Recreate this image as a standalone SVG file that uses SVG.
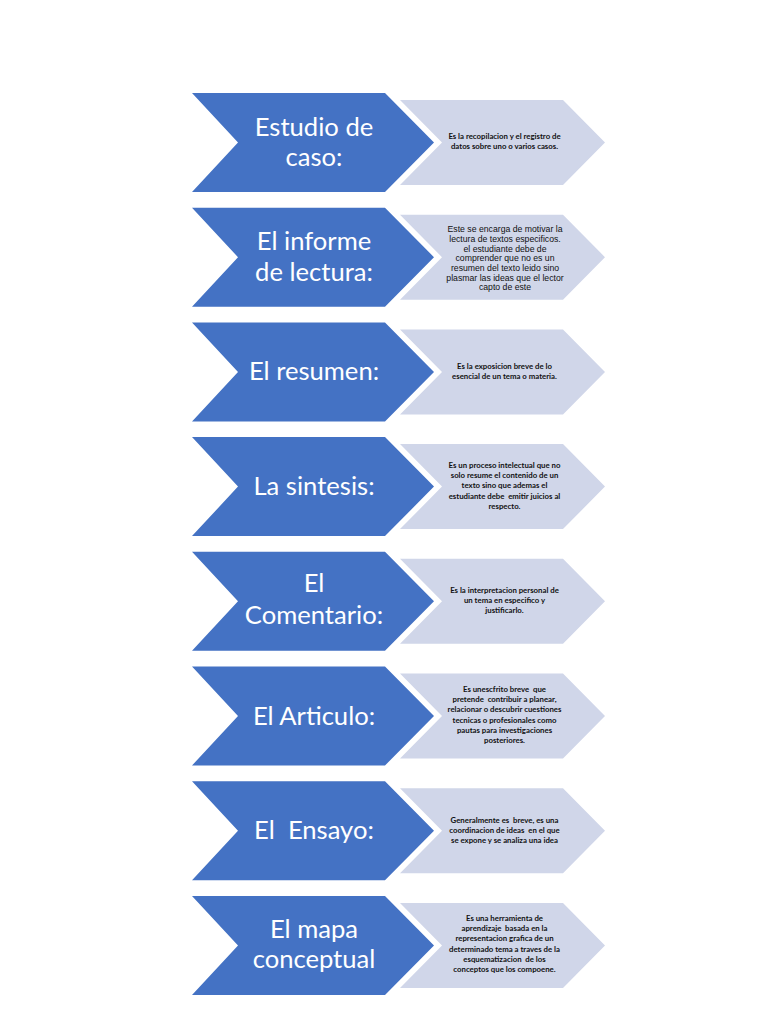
<svg xmlns="http://www.w3.org/2000/svg" width="768" height="1024" viewBox="0 0 768 1024">
<defs>
<style>
.blue{fill:#4472C4}
.light{fill:#D0D6E9}
.t{font-family:Lato,"Open Sans",sans-serif;font-size:25.6px;fill:#FFFFFF;text-anchor:middle}
.d{font-family:Lato,"Noto Sans",sans-serif;font-size:7.8px;font-weight:700;fill:#111111;text-anchor:middle}
.a{font-family:"Liberation Sans",Arial,sans-serif;font-size:8.7px;fill:#111111;text-anchor:middle}
</style>
<polygon id="bchev" points="192,93 385,93 434,142.5 385,192 192,192 238,142.5"/>
<polygon id="lchev" points="400,100 563,100 605,142.5 563,185 400,185 442,142.5"/>
</defs>
<rect width="768" height="1024" fill="#FFFFFF"/>
<g id="connectors"/>
<g id="row1">
<use href="#lchev" class="light"/><use href="#bchev" class="blue"/>
<text class="t" x="314" y="136">Estudio de</text>
<text class="t" x="314" y="166">caso:</text>
<text class="d" x="504.5" y="139">Es la recopilacion y el registro de</text>
<text class="d" x="504.5" y="149">datos sobre uno o varios casos.</text>
</g>
<g id="row2" transform="translate(0,114.7)">
<use href="#lchev" class="light"/><use href="#bchev" class="blue"/>
<text class="t" x="314" y="135.5">El informe</text>
<text class="t" x="314" y="166">de lectura:</text>
<text class="a" x="505" y="117.5">Este se encarga de motivar la</text>
<text class="a" x="505" y="127.2">lectura de textos especificos.</text>
<text class="a" x="505" y="136.9">el estudiante debe de</text>
<text class="a" x="505" y="146.6">comprender que no es un</text>
<text class="a" x="505" y="156.3">resumen del texto leido sino</text>
<text class="a" x="505" y="166">plasmar las ideas que el lector</text>
<text class="a" x="505" y="175.7">capto de este</text>
</g>
<g id="row3" transform="translate(0,229.4)">
<use href="#lchev" class="light"/><use href="#bchev" class="blue"/>
<text class="t" x="314" y="151">El resumen:</text>
<text class="d" x="504.5" y="139.6">Es la exposicion breve de lo</text>
<text class="d" x="504.5" y="149.6">esencial de un tema o materia.</text>
</g>
<g id="row4" transform="translate(0,344.1)">
<use href="#lchev" class="light"/><use href="#bchev" class="blue"/>
<text class="t" x="314" y="151">La sintesis:</text>
<text class="d" x="504.5" y="124">Es un proceso intelectual que no</text>
<text class="d" x="504.5" y="134.2">solo resume el contenido de un</text>
<text class="d" x="504.5" y="144.4">texto sino que ademas el</text>
<text class="d" x="504.5" y="154.6" xml:space="preserve">estudiante debe  emitir juicios al</text>
<text class="d" x="504.5" y="164.8">respecto.</text>
</g>
<g id="row5" transform="translate(0,458.8)">
<use href="#lchev" class="light"/><use href="#bchev" class="blue"/>
<text class="t" x="314" y="133">El</text>
<text class="t" x="314" y="165">Comentario:</text>
<text class="d" x="504.5" y="134.2">Es la interpretacion personal de</text>
<text class="d" x="504.5" y="144.4">un tema en especifico y</text>
<text class="d" x="504.5" y="154.6">justificarlo.</text>
</g>
<g id="row6" transform="translate(0,573.5)">
<use href="#lchev" class="light"/><use href="#bchev" class="blue"/>
<text class="t" x="314" y="151">El Articulo:</text>
<text class="d" x="504.5" y="118.5" xml:space="preserve">Es unescfrito breve  que</text>
<text class="d" x="504.5" y="128.7" xml:space="preserve">pretende  contribuir a planear,</text>
<text class="d" x="504.5" y="138.9">relacionar o descubrir cuestiones</text>
<text class="d" x="504.5" y="149.1">tecnicas o profesionales como</text>
<text class="d" x="504.5" y="159.3">pautas para investigaciones</text>
<text class="d" x="504.5" y="169.5">posteriores.</text>
</g>
<g id="row7" transform="translate(0,688.2)">
<use href="#lchev" class="light"/><use href="#bchev" class="blue"/>
<text class="t" x="314" y="151" xml:space="preserve">El  Ensayo:</text>
<text class="d" x="504.5" y="134.8" xml:space="preserve">Generalmente es  breve, es una</text>
<text class="d" x="504.5" y="145" xml:space="preserve">coordinacion de ideas  en el que</text>
<text class="d" x="504.5" y="155.2">se expone y se analiza una idea</text>
</g>
<g id="row8" transform="translate(0,802.9)">
<use href="#lchev" class="light"/><use href="#bchev" class="blue"/>
<text class="t" x="314" y="135">El mapa</text>
<text class="t" x="314" y="165">conceptual</text>
<text class="d" x="504.5" y="118.1">Es una herramienta de</text>
<text class="d" x="504.5" y="128.3" xml:space="preserve">aprendizaje  basada en la</text>
<text class="d" x="504.5" y="138.5">representacion grafica de un</text>
<text class="d" x="504.5" y="148.7">determinado tema a traves de la</text>
<text class="d" x="504.5" y="158.9" xml:space="preserve">esquematizacion  de los</text>
<text class="d" x="504.5" y="169.1">conceptos que los compoene.</text>
</g>
</svg>
